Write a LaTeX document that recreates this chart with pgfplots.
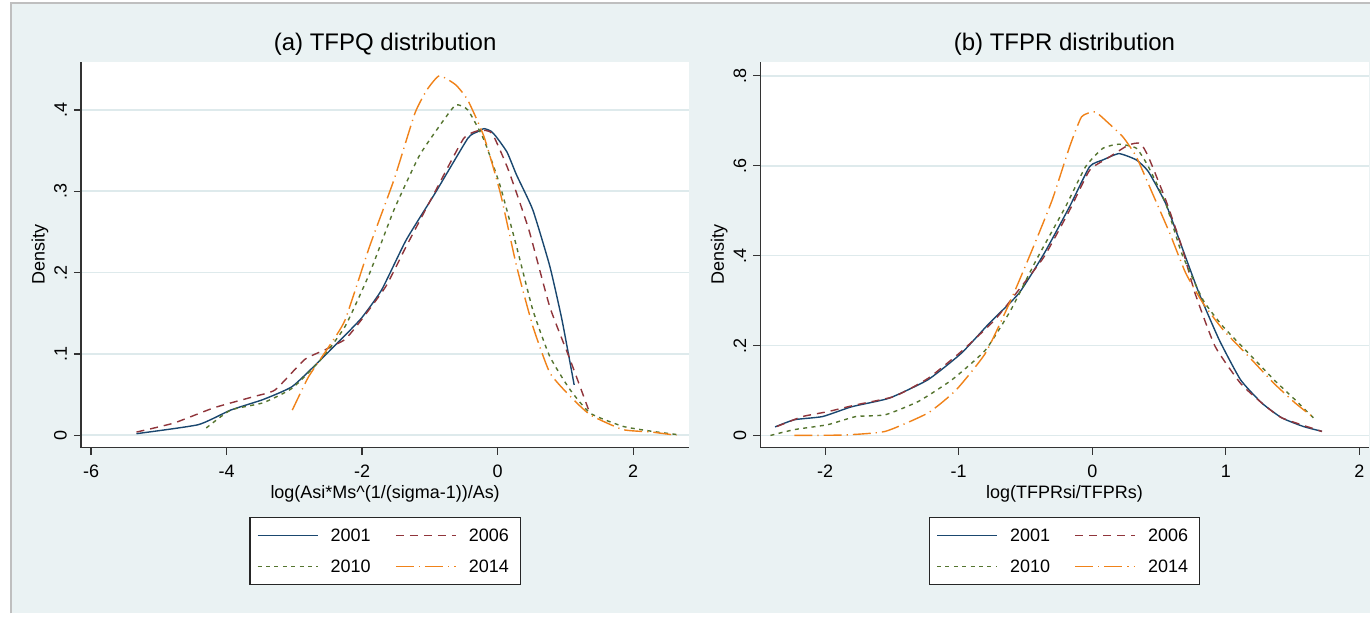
\documentclass[border=0pt]{standalone}
\usepackage{pgfplots}
\pgfplotsset{compat=1.18}
\usepackage{fontspec}
\setmainfont{Liberation Sans}
\definecolor{bgc}{RGB}{234,242,243}
\definecolor{gridc}{RGB}{222,234,236}
\definecolor{c1}{RGB}{26,71,111}
\definecolor{c2}{RGB}{144,53,59}
\definecolor{c3}{RGB}{85,117,47}
\definecolor{c4}{RGB}{240,130,25}
\pgfplotsset{
  stata/.style={
    scale only axis,
    width=304.5pt, height=193pt,
    axis lines=left,
    axis line style={-, draw=black!80, line width=0.6pt},
    axis background/.style={fill=white},
    tick align=outside,
    major tick length=3.5pt,
    tick style={draw=black!80, line width=0.6pt},
    ymajorgrids,
    major grid style={draw=gridc, line width=0.8pt},
    /pgf/number format/assume math mode=true,
    ticklabel style={font=\fontsize{9}{10}\selectfont},
    xticklabel style={yshift=-1.5pt},
    yticklabel style={rotate=90, anchor=south},
    label style={font=\fontsize{9}{10}\selectfont},
    title style={font=\fontsize{12}{14}\selectfont, at={(0.5,1)}, anchor=center, yshift=3pt},
    ylabel style={at={(axis description cs:-0.0673,0.5)}, anchor=center, rotate=0},
    xlabel style={at={(axis description cs:0.5,-0.121)}, anchor=center},
    ylabel={Density},
    legend columns=2,
    legend style={at={(0.5,-0.1788)}, anchor=north, draw=black!85, fill=white,
      line width=0.6pt,
      font=\fontsize{9}{10}\selectfont,
      inner xsep=3.5pt, inner ysep=3pt, row sep=3pt,
      nodes={inner sep=2.2pt, text height=7pt, text depth=1pt},
      /tikz/every odd column/.append style={column sep=4pt},
      /tikz/every even column/.append style={column sep=10pt}},
    legend image code/.code={\draw[#1, line width=0.7pt] (0pt,0pt) -- (30pt,0pt);},
    every axis plot/.append style={line width=0.7pt, line join=round, smooth, tension=0.3},
  },
  s1/.style={c1, solid},
  s2/.style={c2, dash pattern=on 4pt off 3pt},
  s3/.style={c3, dash pattern=on 2pt off 2.2pt},
  s4/.style={c4, dash pattern=on 9pt off 2.5pt on 0.6pt off 2.5pt},
}
\begin{document}
\begin{tikzpicture}
\path[fill=white] (0,0) rectangle (685.5pt,308.5pt);
\path[fill=bgc] (5.5pt,1.5pt) rectangle (685.5pt,307pt);
\draw[draw=black!25, line width=1pt] (5.5pt,1.5pt) -- (5.5pt,307pt) -- (685.5pt,307pt);

\begin{axis}[stata, at={(40.5pt,84.5pt)}, anchor=south west,
  xmin=-6.15, xmax=2.83, ymin=-0.0151, ymax=0.459,
  xtick={-6,-4,-2,0,2},
  ytick={0,0.1,0.2,0.3,0.4}, yticklabels={0,.1,.2,.3,.4},
  title={(a) TFPQ distribution},
  xlabel={log(Asi*Ms\textasciicircum(1/(sigma-1))/As)},
]
\addplot[s1] coordinates {(-5.33,0.002) (-4.42,0.013) (-3.94,0.031) (-3.46,0.044) (-3.03,0.060) (-2.61,0.093) (-2.31,0.118) (-2.01,0.144) (-1.71,0.179) (-1.35,0.240) (-0.92,0.298) (-0.44,0.365) (-0.30,0.373) (-0.20,0.377) (-0.10,0.374) (-0.02,0.367) (0.14,0.348) (0.28,0.320) (0.52,0.277) (0.77,0.208) (0.95,0.142) (1.13,0.062)};
\addlegendentry{2001}
\addplot[s2] coordinates {(-5.33,0.004) (-4.78,0.015) (-4.18,0.034) (-3.58,0.048) (-3.28,0.056) (-2.85,0.093) (-2.55,0.105) (-2.25,0.118) (-2.01,0.142) (-1.65,0.183) (-1.35,0.232) (-0.92,0.300) (-0.50,0.365) (-0.26,0.375) (-0.08,0.371) (0.16,0.326) (0.46,0.253) (0.77,0.158) (1.07,0.093) (1.34,0.032)};
\addlegendentry{2006}
\addplot[s3] coordinates {(-4.30,0.009) (-3.94,0.031) (-3.46,0.040) (-3.03,0.058) (-2.61,0.093) (-2.25,0.134) (-1.89,0.199) (-1.53,0.277) (-1.16,0.343) (-0.86,0.380) (-0.62,0.406) (-0.44,0.400) (-0.20,0.363) (0.04,0.306) (0.28,0.232) (0.52,0.154) (0.77,0.097) (1.07,0.056) (1.37,0.027) (1.85,0.011) (2.27,0.005) (2.64,0.001)};
\addlegendentry{2010}
\addplot[s4] coordinates {(-3.03,0.031) (-2.79,0.072) (-2.49,0.109) (-2.25,0.142) (-1.89,0.232) (-1.53,0.314) (-1.22,0.396) (-1.04,0.425) (-0.86,0.442) (-0.62,0.431) (-0.44,0.412) (-0.20,0.367) (0.04,0.298) (0.28,0.208) (0.52,0.134) (0.77,0.077) (1.07,0.048) (1.37,0.025) (1.85,0.007) (2.27,0.004) (2.64,0.0)};
\addlegendentry{2014}
\end{axis}

\begin{axis}[stata, at={(380.5pt,84.5pt)}, anchor=south west,
  xmin=-2.486, xmax=2.07, ymin=-0.027, ymax=0.831,
  xtick={-2,-1,0,1,2},
  ytick={0,0.2,0.4,0.6,0.8}, yticklabels={0,.2,.4,.6,.8},
  title={(b) TFPR distribution},
  xlabel={log(TFPRsi/TFPRs)},
]
\addplot[s1] coordinates {(-2.375,0.019) (-2.23,0.035) (-2.02,0.042) (-1.80,0.064) (-1.52,0.083) (-1.23,0.124) (-0.98,0.183) (-0.77,0.250) (-0.55,0.316) (-0.36,0.405) (-0.17,0.509) (-0.02,0.598) (0.08,0.613) (0.20,0.627) (0.33,0.613) (0.42,0.587) (0.55,0.516) (0.67,0.420) (0.80,0.316) (0.95,0.213) (1.11,0.124) (1.27,0.072) (1.42,0.039) (1.58,0.020) (1.72,0.009)};
\addlegendentry{2001}
\addplot[s2] coordinates {(-2.36,0.020) (-2.17,0.042) (-1.98,0.053) (-1.77,0.068) (-1.48,0.087) (-1.23,0.127) (-0.98,0.187) (-0.73,0.257) (-0.55,0.324) (-0.36,0.398) (-0.17,0.501) (-0.02,0.590) (0.11,0.616) (0.27,0.646) (0.36,0.650) (0.42,0.620) (0.55,0.524) (0.67,0.420) (0.77,0.316) (0.92,0.198) (1.11,0.116) (1.27,0.072) (1.42,0.039) (1.72,0.009)};
\addlegendentry{2006}
\addplot[s3] coordinates {(-2.41,0.0) (-2.23,0.013) (-1.98,0.024) (-1.77,0.042) (-1.55,0.046) (-1.30,0.076) (-1.05,0.124) (-0.80,0.190) (-0.61,0.279) (-0.42,0.390) (-0.20,0.509) (-0.05,0.598) (0.08,0.639) (0.20,0.648) (0.33,0.639) (0.42,0.598) (0.55,0.516) (0.67,0.405) (0.83,0.301) (0.98,0.242) (1.17,0.183) (1.36,0.124) (1.52,0.079) (1.67,0.035)};
\addlegendentry{2010}
\addplot[s4] coordinates {(-2.23,0.0) (-1.86,0.001) (-1.55,0.009) (-1.23,0.050) (-1.02,0.101) (-0.80,0.183) (-0.61,0.301) (-0.45,0.413) (-0.30,0.524) (-0.17,0.642) (-0.08,0.709) (0.02,0.720) (0.11,0.698) (0.23,0.664) (0.33,0.620) (0.45,0.539) (0.58,0.450) (0.70,0.361) (0.83,0.294) (0.98,0.235) (1.17,0.176) (1.36,0.116) (1.52,0.072) (1.66,0.039)};
\addlegendentry{2014}
\end{axis}
\end{tikzpicture}
\end{document}
